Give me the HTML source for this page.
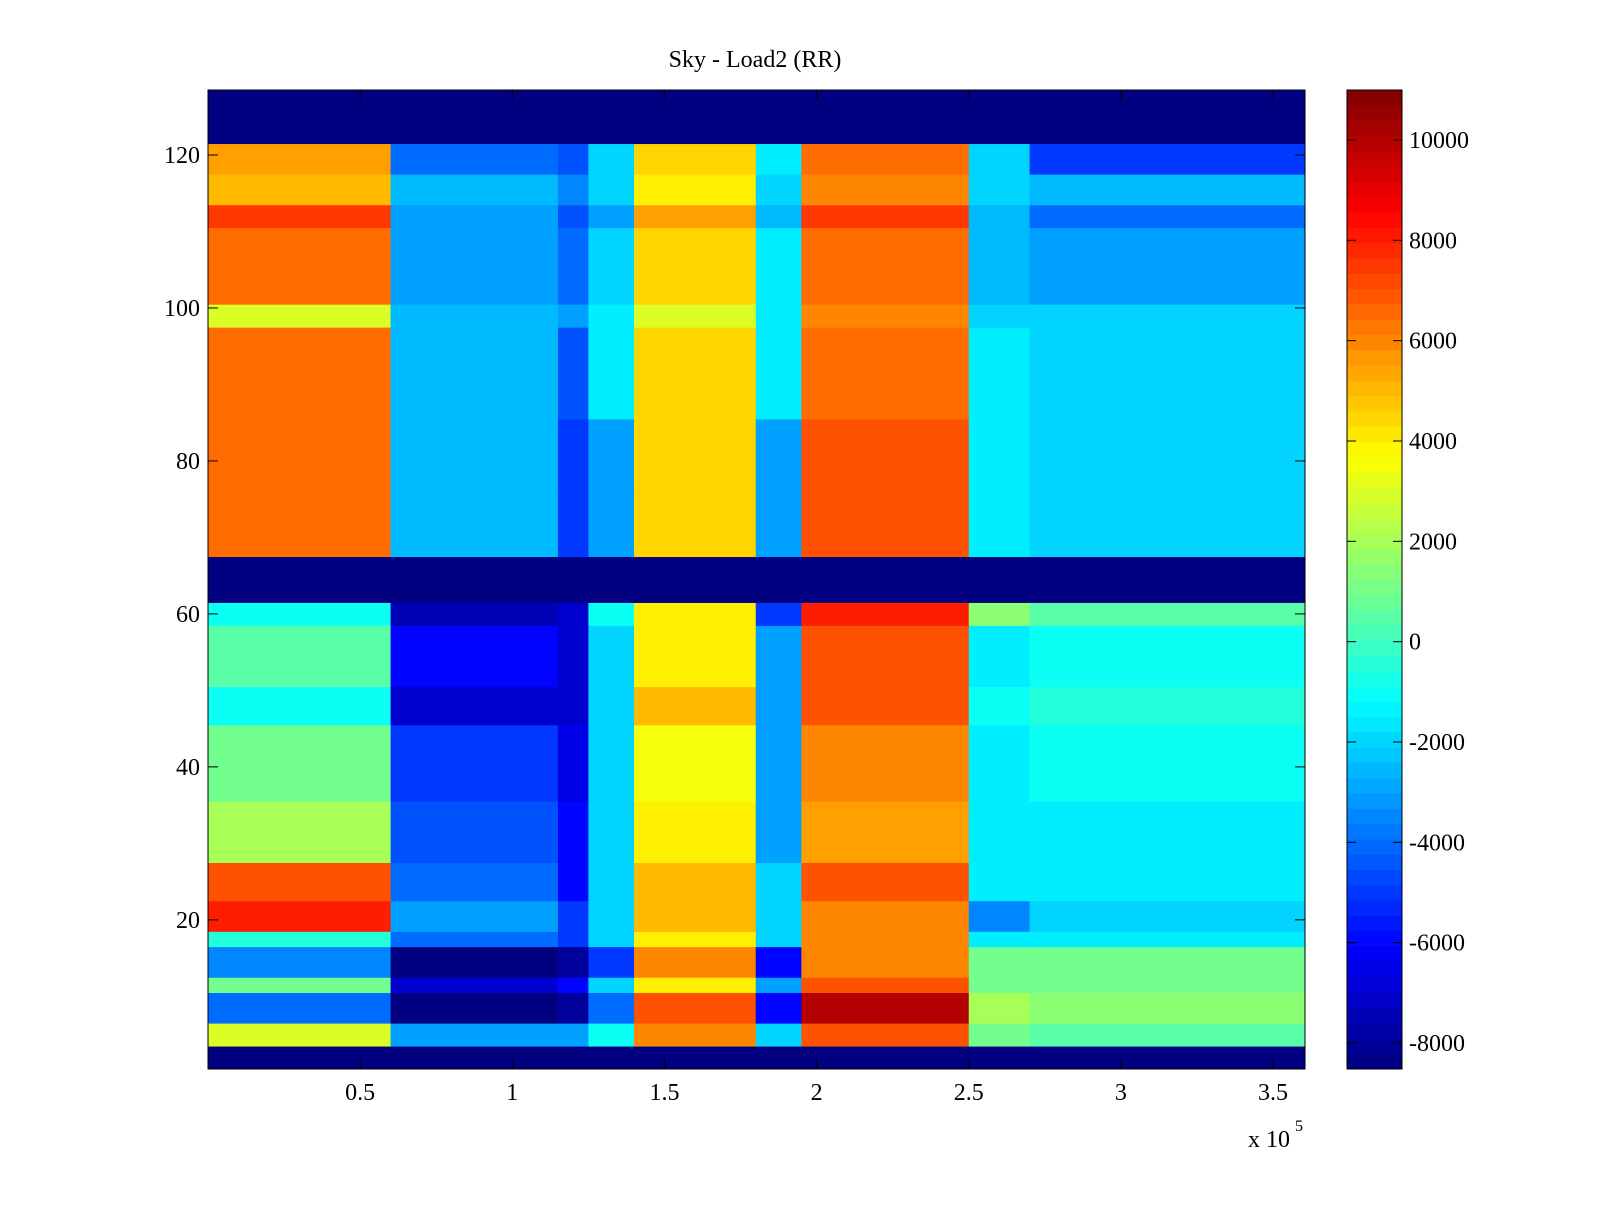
<!DOCTYPE html>
<html><head><meta charset="utf-8"><style>
html,body{margin:0;padding:0;background:#fff;}
svg text{font-family:"Liberation Serif",serif;font-size:24px;fill:#000;}
</style></head><body>
<svg id="chart" width="1600" height="1200" viewBox="0 0 1600 1200" xmlns="http://www.w3.org/2000/svg">
<rect width="1600" height="1200" fill="#fff"/>
<text x="755" y="67" text-anchor="middle">Sky - Load2 (RR)</text>
<g id="cells"></g>
<g id="axes"></g>
<g id="cbar"></g>
</svg>
<script>
// column segment edges (x in units of 1e5)
const colEdges = [0, 0.6, 1.15, 1.25, 1.4, 1.8, 1.95, 2.5, 2.7, 3.605];
// row bands: [firstRow, lastRow]
const rowBands = [
 [1,3],[4,6],[7,10],[11,12],[13,16],[17,18],[19,22],[23,27],[28,35],[36,45],[46,50],[51,58],[59,61],
 [62,67],[68,75],[76,85],[86,97],[98,100],[101,110],[111,113],[114,117],[118,121],[122,128]
];
// values in thousands per band, per column segment
const bandValues = [
 [-8.5,-8.5,-8.5,-8.5,-8.5,-8.5,-8.5,-8.5,-8.5],
 [3,-3,-3,-1,6,-2,7,1,0.5],
 [-4,-8.5,-8,-4,7,-6,10,2,1.5],
 [1,-7,-6,-2,4,-3,7,1,1],
 [-3.5,-8.5,-8,-5,6,-6,6,1,1],
 [-0.5,-4,-5,-2,4,-2,6,-1.5,-1.5],
 [8,-3,-5,-2,5,-2,6,-3.5,-2],
 [7,-4,-6,-2,5,-2,7,-1.5,-1.5],
 [2,-4.5,-6,-2,4,-3,5.5,-1.5,-1.5],
 [1,-5,-6.5,-2,3.5,-3,6,-1.5,-1],
 [-1,-7,-7,-2,5,-3,7,-1,-0.5],
 [0.5,-6,-7,-2,4,-3,7,-1.5,-1],
 [-1,-7.5,-7,-1,4,-5,8,1.5,0.5],
 [-8.5,-8.5,-8.5,-8.5,-8.5,-8.5,-8.5,-8.5,-8.5],
 [6.5,-2.5,-5,-3,4.5,-3,7,-1.5,-2],
 [6.5,-2.5,-5,-3,4.5,-3,7,-1.5,-2],
 [6.5,-2.5,-4.5,-1.5,4.5,-1.5,6.5,-1.5,-2],
 [3,-2.5,-3,-1.5,3,-1.5,6,-2,-2],
 [6.5,-3,-4,-2,4.5,-1.5,6.5,-2.5,-3],
 [7.5,-3,-4.5,-3,5.5,-2.5,7.5,-2.5,-4],
 [5,-2.5,-3.5,-2,4,-2,6,-2,-2.5],
 [5.5,-4,-4.5,-2,4.5,-1.5,6.5,-2,-5],
 [-8.5,-8.5,-8.5,-8.5,-8.5,-8.5,-8.5,-8.5,-8.5]
];
const xTicks = [0.5,1,1.5,2,2.5,3,3.5];
const xTickLabels = ["0.5","1","1.5","2","2.5","3","3.5"];
const yTicks = [20,40,60,80,100,120];
const cTicks = [-8000,-6000,-4000,-2000,0,2000,4000,6000,8000,10000];

const NS="http://www.w3.org/2000/svg";
const PX0=208,PX1=1305,PY0=90,PY1=1069;
const XMIN=0,XMAX=3.605,YMIN=0.5,YMAX=128.5;
const CMIN=-8500,CMAX=11000;
function sx(v){return PX0+(v-XMIN)/(XMAX-XMIN)*(PX1-PX0);}
function sy(v){return PY1-(v-YMIN)/(YMAX-YMIN)*(PY1-PY0);}
function cl(v){return Math.max(0,Math.min(1,v));}
function jet(val){
 const t=cl((val-CMIN)/(CMAX-CMIN));
 const r=cl(1.5-Math.abs(4*t-3)),g=cl(1.5-Math.abs(4*t-2)),b=cl(1.5-Math.abs(4*t-1));
 return `rgb(${Math.round(r*255)},${Math.round(g*255)},${Math.round(b*255)})`;
}
function mk(tag,attrs,parent){const e=document.createElementNS(NS,tag);for(const k in attrs)e.setAttribute(k,attrs[k]);parent.appendChild(e);return e;}

const cells=document.getElementById('cells');
rowBands.forEach((band,bi)=>{
 const y0=sy(band[1]+0.5),y1=sy(band[0]-0.5);
 for(let c=0;c<colEdges.length-1;c++){
  const x0=sx(colEdges[c]),x1=sx(colEdges[c+1]);
  const r=mk('rect',{x:x0,y:y0,width:x1-x0+0.5,height:y1-y0+0.5,fill:jet(bandValues[bi][c]*1000)},cells);
  
  
 }
});

const axes=document.getElementById('axes');
const frame=mk('rect',{x:PX0,y:PY0,width:PX1-PX0,height:PY1-PY0,fill:'none',stroke:'#000','stroke-width':1},axes);


xTicks.forEach((v,i)=>{
 const x=sx(v);
 mk('line',{x1:x,y1:PY1,x2:x,y2:PY1-10,stroke:'#000'},axes);
 mk('line',{x1:x,y1:PY0,x2:x,y2:PY0+10,stroke:'#000'},axes);
 const t=mk('text',{x:x,y:1100,'text-anchor':'middle'},axes);t.textContent=xTickLabels[i];
 
 
});
yTicks.forEach(v=>{
 const y=sy(v);
 mk('line',{x1:PX0,y1:y,x2:PX0+10,y2:y,stroke:'#000'},axes);
 mk('line',{x1:PX1,y1:y,x2:PX1-10,y2:y,stroke:'#000'},axes);
 const t=mk('text',{x:200,y:y+8,'text-anchor':'end'},axes);t.textContent=v;
 
 
});
const ex=mk('text',{x:1248,y:1147},axes);ex.textContent='x 10';


const ex2=mk('text',{x:1295,y:1131,style:'font-size:16px'},axes);ex2.textContent='5';



const cbar=document.getElementById('cbar');
const CX0=1347,CX1=1402;
function cy(v){return 1043-(v+8000)/18000*(1043-140);}
for(let i=0;i<64;i++){
 const v0=CMIN+(CMAX-CMIN)*i/64,v1=CMIN+(CMAX-CMIN)*(i+1)/64;
 mk('rect',{x:CX0,y:Math.max(PY0,cy(v1)),width:CX1-CX0,height:Math.min(PY1,cy(v0))-Math.max(PY0,cy(v1))+0.6,fill:jet((v0+v1)/2)},cbar);
}
mk('rect',{x:CX0,y:PY0,width:CX1-CX0,height:PY1-PY0,fill:'none',stroke:'#000'},cbar);
cTicks.forEach(v=>{
 const y=cy(v);
 mk('line',{x1:CX0,y1:y,x2:CX0+9,y2:y,stroke:'#000'},cbar);
 mk('line',{x1:CX1,y1:y,x2:CX1-9,y2:y,stroke:'#000'},cbar);
 const t=mk('text',{x:1409,y:y+8},cbar);t.textContent=v;
 
 
});
</script>
</body></html>
